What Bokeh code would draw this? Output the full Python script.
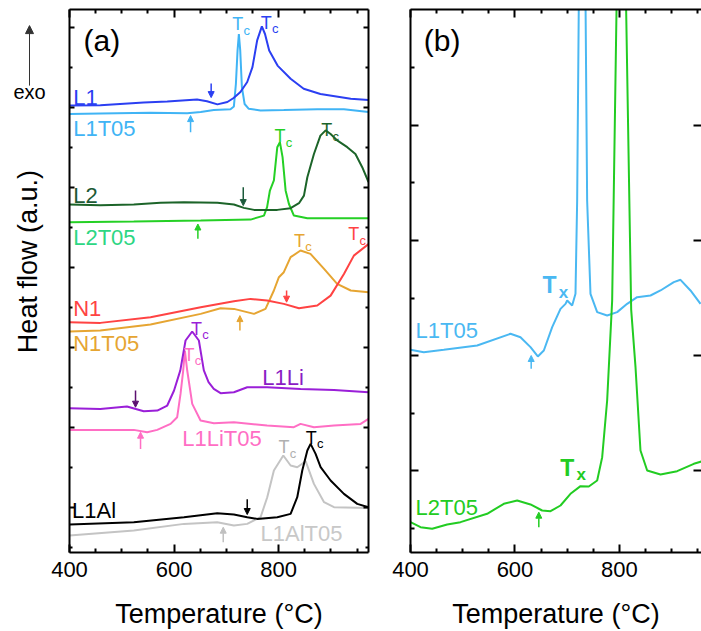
import math
from bokeh.plotting import figure
from bokeh.layouts import row
from bokeh.models import (FixedTicker, LinearAxis, Range1d, Label, Arrow,
                          NormalHead, ColumnDataSource)
from bokeh.embed import file_html
from bokeh.resources import INLINE

FONT = "Liberation Sans"

# ---------------- panel (a) data : temperature (°C) / heat flow (a.u., offset) -------------
L1_T = [400, 459, 542, 587, 644, 663, 683, 702, 714, 727, 740, 750, 759, 768, 774, 782, 798, 823, 848, 880, 938, 972]
L1_hf = [11.04, 11.05, 11.12, 11.14, 11.19, 11.15, 11.07, 11.13, 11.23, 11.38, 11.63, 12.0, 12.67, 13.02, 12.83, 12.42, 12.04, 11.71, 11.46, 11.33, 11.21, 11.18]

L1T05_T = [400, 459, 555, 625, 651, 676, 708, 714.5, 718.3, 721.5, 724, 726.6, 729.8, 735, 743, 765.5, 810, 874, 925, 972]
L1T05_hf = [10.83, 10.84, 10.86, 10.85, 10.88, 10.93, 10.95, 11.02, 11.58, 12.42, 12.83, 12.42, 11.5, 11.08, 10.96, 10.92, 10.93, 10.95, 10.95, 10.88]

L2_T = [400, 459, 523, 574, 619, 683, 714.5, 733.6, 753, 797.5, 823, 839, 848.5, 855, 867.6, 880, 890, 899.5, 912, 931.4, 947, 960, 972]
L2_hf = [8.567, 8.55, 8.567, 8.61, 8.625, 8.61, 8.567, 8.483, 8.433, 8.433, 8.475, 8.6, 8.79, 9.25, 9.83, 10.29, 10.42, 10.33, 10.17, 10.0, 9.83, 9.5, 9.13]

L2T05_T = [400, 523, 651, 746.4, 772, 778, 783.4, 791, 797.5, 802.5, 807.6, 813.4, 819.8, 829.3, 855, 906, 972]
L2T05_hf = [8.125, 8.14, 8.167, 8.19, 8.29, 8.5, 8.917, 9.17, 10.0, 10.125, 9.75, 8.92, 8.58, 8.29, 8.225, 8.225, 8.225]

N1_T = [400, 459, 555, 651, 714.5, 746.4, 778, 810, 839, 874, 899.5, 925, 944, 972]
N1_hf = [5.625, 5.608, 5.75, 6.0, 6.15, 6.208, 6.167, 6.083, 5.975, 6.042, 6.29, 6.83, 7.29, 7.58]

N1T05_T = [400, 459, 555, 651, 689, 714.5, 753, 775, 791, 800.6, 810, 823, 842, 861, 887, 912, 938, 972]
N1T05_hf = [5.392, 5.417, 5.567, 5.833, 5.975, 5.958, 5.833, 5.96, 6.417, 6.75, 6.875, 7.25, 7.417, 7.333, 6.958, 6.583, 6.417, 6.375]

L1Li_T = [400, 459, 510, 542, 568, 587, 600, 612, 622, 634.7, 647.5, 657, 666, 676, 689, 714.5, 740, 778, 842, 906, 972]
L1Li_hf = [3.475, 3.458, 3.517, 3.4, 3.417, 3.542, 3.917, 4.42, 5.167, 5.392, 5.167, 4.42, 4.125, 3.958, 3.85, 3.875, 4.0, 4.0, 3.958, 3.933, 3.875]

L1LiT05_T = [400, 523, 548.6, 567.8, 593.3, 606, 612.4, 617.5, 620.7, 625.2, 634.8, 650.7, 676.2, 714.5, 778, 829.3, 842, 867.6, 906, 957, 972]
L1LiT05_hf = [2.933, 2.933, 2.875, 2.933, 3.083, 3.25, 3.833, 4.417, 4.917, 4.417, 3.583, 3.167, 3.1, 3.125, 3.042, 3.0, 3.083, 3.0, 3.042, 3.083, 3.208]

L1Al_T = [400, 523, 619, 682.6, 714.5, 740, 759, 797.5, 823, 835.7, 845.3, 855, 861.2, 870.8, 880.4, 899.5, 925, 950.5, 972]
L1Al_hf = [0.567, 0.625, 0.75, 0.85, 0.817, 0.75, 0.708, 0.75, 0.833, 1.25, 1.917, 2.417, 2.583, 2.333, 2.0, 1.667, 1.333, 1.083, 1.0]

L1AlT05_T = [400, 523, 619, 682.6, 714.5, 740, 765.5, 778.3, 791, 809, 823, 835.7, 851.7, 867.6, 887, 906, 972]
L1AlT05_hf = [0.292, 0.417, 0.583, 0.625, 0.542, 0.583, 0.75, 1.25, 1.917, 2.292, 2.042, 2.0, 2.15, 1.583, 1.125, 1.0, 0.983]

# onset arrows panel (a): temperature, heat flow at tail, heat flow at tip
onset_a_T = [671, 631.6, 732.4, 645.6, 815.3, 726, 526.3, 535.9, 740, 694.1]
onset_a_from = [11.59, 10.375, 9.0, 7.71, 6.417, 5.417, 3.917, 2.458, 1.2, 0.125]
onset_a_to = [11.24, 10.79, 8.54, 8.08, 6.125, 5.79, 3.5, 2.875, 0.817, 0.5]

# ---------------- panel (b) data ----------------
b_L1T05_T = [400, 425.5, 463.8, 527.6, 591.4, 610.5, 629.7, 643.7, 655.2, 671.2, 687.1, 696.7, 699.9, 709.4, 715.8, 719, 722.2, 728.6, 735, 738.1, 744.5, 757.3, 776.4, 795.6, 814.7, 833.8, 859.4, 878.5, 904, 916.8, 935.9, 955.1]
b_L1T05_hf = [3.102, 3.061, 3.102, 3.177, 3.38, 3.321, 3.148, 2.986, 3.09, 3.495, 3.813, 3.9, 3.958, 3.872, 4.074, 5.694, 9.167, 14.0, 9.167, 5.694, 4.074, 3.756, 3.698, 3.756, 3.9, 4.016, 4.045, 4.132, 4.277, 4.317, 4.132, 3.9]

b_L2T05_T = [400, 419.2, 441.5, 470.2, 495.7, 546.7, 578.6, 604.2, 629.7, 652, 668, 687.1, 706.2, 725.4, 741.3, 757.3, 766.9, 776.4, 782.8, 786, 794.3, 803.5, 812.8, 822.4, 830.7, 840.2, 853, 878.5, 910.4, 942.3, 957]
b_L2T05_hf = [0.11, 0.023, -0.006, 0.069, 0.11, 0.255, 0.428, 0.486, 0.417, 0.312, 0.301, 0.399, 0.602, 0.735, 0.729, 0.833, 1.238, 2.222, 3.38, 3.958, 8.99, 15.0, 8.99, 3.8, 2.8, 1.354, 1.007, 0.937, 0.995, 1.123, 1.163]

onset_b_T = [631, 645.6]
onset_b_from = [2.772, 0.023]
onset_b_to = [3.003, 0.283]

# tick values
x_major = [400, 600, 800]
x_minor = [450, 500, 550, 650, 700, 750, 850, 900, 950]
ya_major = [1, 3, 5, 7, 9, 11, 13]
ya_minor = [0, 2, 4, 6, 8, 10, 12]
yb_major = [1, 3, 5, 7]
yb_minor = [0, 2, 4, 6, 8]

# ---------------- styles ----------------
C = {
    "L1": "#2b3ff2", "L1T05": "#40b4f5", "L2": "#1c6429", "L2T05": "#25d025",
    "N1": "#ff4343", "N1T05": "#e6a532", "L1Li": "#9a1fd8", "L1LiT05": "#ff6ec4",
    "L1Al": "#000000", "L1AlT05": "#c4c4c4",
}
YA = (-0.1325, 13.4425)
YB = (-0.417, 9.01)
FRAME_H = 543
TOP = 9
BOTTOM = 79


def style_axis(ax, ticker, maj, mnr, labels):
    ax.ticker = ticker
    ax.axis_line_width = 2
    ax.axis_line_color = "black"
    ax.major_tick_in = maj
    ax.major_tick_out = 0
    ax.minor_tick_in = mnr
    ax.minor_tick_out = 0
    ax.major_tick_line_width = 2
    ax.minor_tick_line_width = 2
    ax.major_tick_line_color = "black"
    ax.minor_tick_line_color = "black"
    if labels:
        ax.major_label_text_font = FONT
        ax.major_label_text_font_size = "22px"
        ax.major_label_text_color = "black"
        ax.major_label_text_line_height = 1.0
        ax.major_label_standoff = 9
        ax.axis_label = "Temperature (°C)"
        ax.axis_label_text_font = FONT
        ax.axis_label_text_font_size = "27px"
        ax.axis_label_text_font_style = "normal"
        ax.axis_label_text_color = "black"
        ax.axis_label_text_line_height = 1.0
        ax.axis_label_standoff = 19
    else:
        ax.major_label_text_font_size = "0px"
        ax.major_label_standoff = 0
        ax.major_label_text_color = None


def make_fig(xr, yr, fw, mbl, mbr, ymaj, ymin, ylen, right_minor=True):
    p = figure(frame_width=fw, frame_height=FRAME_H, x_range=Range1d(*xr), y_range=Range1d(*yr),
               output_backend="svg", toolbar_location=None,
               min_border_left=mbl, min_border_right=mbr, min_border_top=TOP,
               min_border_bottom=BOTTOM)
    p.outline_line_color = None
    p.grid.visible = False
    p.background_fill_color = "white"
    p.border_fill_color = "white"
    style_axis(p.xaxis[0], FixedTicker(ticks=x_major, minor_ticks=x_minor), 8, 4, True)
    style_axis(p.yaxis[0], FixedTicker(ticks=ymaj, minor_ticks=ymin), ylen[0], ylen[1], False)
    top = LinearAxis()
    style_axis(top, FixedTicker(ticks=x_major, minor_ticks=x_minor), 8, 4, False)
    p.add_layout(top, "above")
    right = LinearAxis()
    style_axis(right, FixedTicker(ticks=ymaj, minor_ticks=ymin if right_minor else []),
               ylen[0], ylen[1], False)
    p.add_layout(right, "right")
    return p, right


def add_arrow(p, x, y0, y1, color, size=6, width=1.5):
    p.add_layout(Arrow(end=NormalHead(size=size, fill_color=color, line_color=color, line_width=1),
                       x_start=x, y_start=y0, x_end=x, y_end=y1,
                       line_color=color, line_width=width))


def sub_label(p, x, y, main, sub, color, size, subsize, style="normal", dx=9, dy=6):
    p.add_layout(Label(x=x, y=y, text=main, text_font=FONT, text_font_size=size,
                       text_font_style=style, text_color=color,
                       text_align="center", text_baseline="middle"))
    p.add_layout(Label(x=x, y=y, x_offset=dx, y_offset=-dy, text=sub, text_font=FONT,
                       text_font_size=subsize, text_font_style=style, text_color=color,
                       text_align="center", text_baseline="middle"))


def text_label(p, x, y, t, color, size="22px", align="left"):
    p.add_layout(Label(x=x, y=y, text=t, text_font=FONT, text_font_size=size,
                       text_color=color, text_align=align, text_baseline="middle"))


# ---------------- left strip: y title and exo arrow ----------------
# same temperature scale as panel (a), continued to the left of its frame
PX_PER_DEG = 299 / (972 - 400)
pl = figure(frame_width=50, frame_height=FRAME_H,
            x_range=Range1d(400 - 69 / PX_PER_DEG, 400 - 19 / PX_PER_DEG), y_range=Range1d(*YA),
            output_backend="svg", toolbar_location=None, x_axis_location=None,
            y_axis_location=None, min_border_left=0, min_border_right=0,
            min_border_top=TOP, min_border_bottom=BOTTOM)
pl.outline_line_color = None
pl.grid.visible = False
pl.add_layout(Label(x=400 - 42 / PX_PER_DEG, y=7.14, text="Heat flow (a.u.)", angle=math.pi / 2,
                    text_font=FONT, text_font_size="27px", text_color="black",
                    text_align="center", text_baseline="middle"))
pl.add_layout(Label(x=400 - 40 / PX_PER_DEG, y=11.37, text="exo", text_font=FONT,
                    text_font_size="20px", text_color="black", text_align="center",
                    text_baseline="middle"))
add_arrow(pl, 400 - 40 / PX_PER_DEG, 11.54, 13.04, "#333333", size=8, width=1)

# ---------------- panel (a) ----------------
pa, ra = make_fig((400, 972), YA, 299, 19, 22, ya_major, ya_minor, (5, 3))

series_a = [
    ("L1AlT05", L1AlT05_T, L1AlT05_hf), ("L1Al", L1Al_T, L1Al_hf),
    ("L1LiT05", L1LiT05_T, L1LiT05_hf), ("L1Li", L1Li_T, L1Li_hf),
    ("N1T05", N1T05_T, N1T05_hf), ("N1", N1_T, N1_hf),
    ("L2T05", L2T05_T, L2T05_hf), ("L2", L2_T, L2_hf),
    ("L1T05", L1T05_T, L1T05_hf), ("L1", L1_T, L1_hf),
]
for name, t, hf in series_a:
    src = ColumnDataSource(dict(T=t, hf=hf))
    pa.line("T", "hf", source=src, line_color=C[name], line_width=2)

arrow_cols_a = [C["L1"], C["L1T05"], "#1b5a3a", C["L2T05"], C["N1"], C["N1T05"],
                "#5c1070", C["L1LiT05"], "#000000", "#c0c0c0"]
for t, y0, y1, col in zip(onset_a_T, onset_a_from, onset_a_to, arrow_cols_a):
    add_arrow(pa, t, y0, y1, col)

# Tc labels
tc_pos = [(722, 13.07, C["L1T05"]), (776.4, 13.11, C["L1"]), (802.5, 10.27, C["L2T05"]),
          (891.9, 10.42, C["L2"]), (840.2, 7.667, C["N1T05"]), (944, 7.83, C["N1"]),
          (643, 5.458, C["L1Li"]), (628.4, 4.817, C["L1LiT05"]), (810.2, 2.5, "#b0b0b0"),
          (862.5, 2.733, "#000000")]
for x, y, col in tc_pos:
    sub_label(pa, x, y, "T", "c", col, "18px", "13px")

# curve labels
text_label(pa, 407, 11.25, "L1", C["L1"])
text_label(pa, 407, 10.46, "L1T05", C["L1T05"])
text_label(pa, 407, 8.79, "L2", "#1d5a35")
text_label(pa, 407, 7.75, "L2T05", "#2dd683")
text_label(pa, 407, 5.96, "N1", C["N1"])
text_label(pa, 407, 5.083, "N1T05", C["N1T05"])
text_label(pa, 768.7, 4.25, "L1Li", "#8a1cc4")
text_label(pa, 615.6, 2.708, "L1LiT05", C["L1LiT05"])
text_label(pa, 405, 0.917, "L1Al", "#000000")
text_label(pa, 765.5, 0.333, "L1AlT05", "#c8c8c8")
text_label(pa, 427, 12.667, "(a)", "#000000", size="30px")

# ---------------- panel (b) ----------------
pb, rb = make_fig((400, 957), YB, 291, 20, 0, yb_major, yb_minor, (8, 4), right_minor=False)
rb.axis_line_color = None

pb.line(b_L1T05_T, b_L1T05_hf, line_color="#4ab8f2", line_width=2)
pb.line(b_L2T05_T, b_L2T05_hf, line_color="#22cc22", line_width=2)
for t, y0, y1, col in zip(onset_b_T, onset_b_from, onset_b_to, ["#4ab8f2", "#22cc22"]):
    add_arrow(pb, t, y0, y1, col)

text_label(pb, 409.6, 3.437, "L1T05", "#4ab8f2")
text_label(pb, 409.6, 0.37, "L2T05", "#22cc22")
text_label(pb, 425.5, 8.472, "(b)", "#000000", size="30px")
sub_label(pb, 666, 4.219, "T", "x", "#4ab8f2", "23px", "17px", style="bold", dx=14, dy=7)
sub_label(pb, 699.9, 1.053, "T", "x", "#22cc22", "23px", "17px", style="bold", dx=14, dy=7)

layout = row(pl, pa, pb, spacing=0)
open("out.html", "w").write(file_html(layout, INLINE))
